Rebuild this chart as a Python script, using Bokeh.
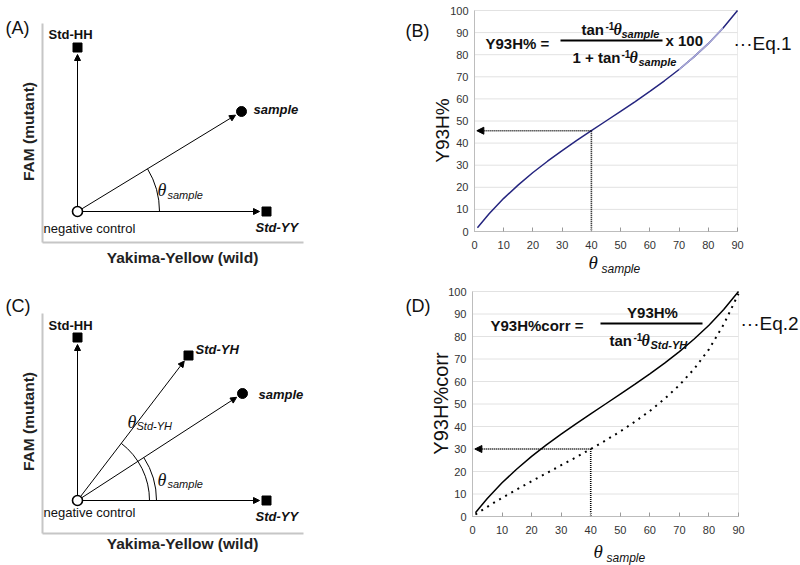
import numpy as np
from bokeh.plotting import figure
from bokeh.layouts import column, row
from bokeh.models import Label, Arrow, NormalHead, FixedTicker, Range1d, BoxAnnotation
from bokeh.embed import file_html
from bokeh.resources import INLINE

SANS = "Liberation Sans"
SERIF = "Liberation Serif"
INK = "#111111"

# ---------------- data ----------------
theta_sample = [1, 5, 10, 15, 20, 25, 30, 35, 40, 45, 50, 55, 60, 65, 70, 75, 80, 85, 90]
y93h_pct = [1.7, 8.0, 15.0, 21.1, 26.7, 31.8, 36.6, 41.2, 45.6, 50.0, 54.4, 58.8,
            63.4, 68.2, 73.3, 78.9, 85.0, 92.0, 100.0]
y93h_corr = [0.9, 4.3, 8.3, 12.0, 15.7, 19.2, 22.8, 26.3, 30.0, 33.8, 37.8, 42.2,
             46.9, 52.3, 58.4, 65.6, 74.3, 85.4, 99.0]
x_ticks = [0, 10, 20, 30, 40, 50, 60, 70, 80, 90]
y_ticks = [0, 10, 20, 30, 40, 50, 60, 70, 80, 90, 100]
read_theta = 40
read_y93h = 45.6
read_corr = 30.0

# schematic signal values (Yakima-Yellow, FAM) relative to negative control
diag_a_names = ["Std-HH", "sample", "Std-YY"]
diag_a_yy = [0, 164, 189]
diag_a_fam = [164, 100, 0]
diag_c_names = ["Std-HH", "Std-YH", "sample", "Std-YY"]
diag_c_yy = [0, 111, 165, 189]
diag_c_fam = [163, 145, 107, 0]


def linmap(p0, p1, d0, d1):
    return lambda px: d0 + (px - p0) / (p1 - p0) * (d1 - d0)


def make_fig(box, mx, my):
    x0, y0, x1, y1 = box
    p = figure(width=x1 - x0, height=y1 - y0,
               x_range=Range1d(mx(x0), mx(x1)), y_range=Range1d(my(y1), my(y0)),
               output_backend="svg", toolbar_location=None, title=None,
               min_border=0, min_border_left=0, min_border_right=0,
               min_border_top=0, min_border_bottom=0)
    p.outline_line_color = None
    p.grid.visible = False
    p.background_fill_color = "white"
    p.border_fill_color = "white"
    return p


def lab(p, m, px, py, text, size, style="normal", font=SANS, align="left",
        baseline="middle", angle=0, color=INK):
    mx, my = m
    p.add_layout(Label(x=mx(px), y=my(py), text=text, text_font=font,
                       text_font_size=f"{size}px", text_font_style=style,
                       text_align=align, text_baseline=baseline, angle=angle,
                       text_color=color))


# ---------------- schematic panels ----------------
def diagram(box, fx0, fx1, fy0, fy1, ox, oy):
    mx = linmap(ox, ox + 1, 0, 1)
    my = linmap(oy, oy - 1, 0, 1)
    p = make_fig(box, mx, my)
    for ax in (p.xaxis[0], p.yaxis[0]):
        ax.ticker = FixedTicker(ticks=[])
        ax.major_tick_out = 0
        ax.major_tick_in = 0
        ax.minor_tick_out = 0
        ax.minor_tick_in = 0
        ax.major_label_standoff = 0
        ax.axis_line_color = "#c6c6c6"
        ax.axis_line_width = 2
    p.xaxis.fixed_location = my(fy1)
    p.xaxis.bounds = (mx(fx0), mx(fx1))
    p.yaxis.fixed_location = mx(fx0)
    p.yaxis.bounds = (my(fy1), my(fy0))
    m = (mx, my)
    return p, m


def axis_titles(p, m, xpos, ypos):
    lab(p, m, xpos[0], xpos[1], "Yakima-Yellow (wild)", 15.5, "bold", align="center", color="#222222")
    lab(p, m, ypos[0], ypos[1], "FAM (mutant)", 15.5, "bold", align="center",
        angle=np.pi / 2, color="#222222")


def add_vectors(p, names, xs, ys):
    xs = np.array(xs, dtype=float)
    ys = np.array(ys, dtype=float)
    r = np.hypot(xs, ys)
    ex = xs - 7 * xs / r
    ey = ys - 7 * ys / r
    for i in range(len(names)):
        p.add_layout(Arrow(end=NormalHead(size=6, line_color="black", fill_color="black", line_width=1),
                           x_start=0, y_start=0, x_end=ex[i], y_end=ey[i],
                           line_color="black", line_width=1, level="underlay"))
    sq = [i for i, n in enumerate(names) if n != "sample"]
    sm = [i for i, n in enumerate(names) if n == "sample"]
    p.scatter(xs[sq], ys[sq], marker="square", size=9, color="black")
    p.scatter(xs[sm], ys[sm], marker="circle", size=10, color="black")
    p.scatter([0], [0], marker="circle", size=10, fill_color="white", line_color="black", line_width=1.6)


# Panel A
pA, mA = diagram((0, 0, 390, 280), 42, 303, 23, 242, 77, 211)
axis_titles(pA, mA, (182, 257), (28, 131))
add_vectors(pA, diag_a_names, diag_a_yy, diag_a_fam)
ang_a = np.arctan2(diag_a_fam[1], diag_a_yy[1])
pA.arc(x=[0], y=[0], radius=82, start_angle=0, end_angle=ang_a, line_color="black", line_width=1)
lab(pA, mA, 5, 27, "(A)", 18)
lab(pA, mA, 70, 34, "Std-HH", 13, "bold", align="center")
lab(pA, mA, 253, 109, "sample", 13, "bold italic")
lab(pA, mA, 255, 227, "Std-YY", 13, "bold italic")
lab(pA, mA, 43, 228, "negative control", 13)
lab(pA, mA, 157, 189, "θ", 18, "italic", SERIF)
lab(pA, mA, 167, 194, "sample", 11, "italic")

# Panel C
pC, mC = diagram((0, 280, 390, 565), 42, 303, 313, 533, 77, 500)
axis_titles(pC, mC, (182, 543), (28, 421))
add_vectors(pC, diag_c_names, diag_c_yy, diag_c_fam)
ang_yh = np.arctan2(diag_c_fam[1], diag_c_yy[1])
ang_s = np.arctan2(diag_c_fam[2], diag_c_yy[2])
pC.arc(x=[0], y=[0], radius=72, start_angle=0, end_angle=ang_yh, line_color="black", line_width=1)
pC.arc(x=[0], y=[0], radius=79, start_angle=0, end_angle=ang_s, line_color="black", line_width=1)
lab(pC, mC, 5, 305, "(C)", 18)
lab(pC, mC, 70, 325, "Std-HH", 13, "bold", align="center")
lab(pC, mC, 195, 349, "Std-YH", 13, "bold italic")
lab(pC, mC, 258, 394, "sample", 13, "bold italic")
lab(pC, mC, 255, 516, "Std-YY", 13, "bold italic")
lab(pC, mC, 43, 512, "negative control", 13)
lab(pC, mC, 127, 421, "θ", 18, "italic", SERIF)
lab(pC, mC, 136, 425, "Std-YH", 11, "italic")
lab(pC, mC, 157, 479, "θ", 18, "italic", SERIF)
lab(pC, mC, 167, 483, "sample", 11, "italic")


# ---------------- chart panels ----------------
def chart(box, fx0, fx1, fy0, fy1):
    mx = linmap(fx0, fx1, 0, 90)
    my = linmap(fy1, fy0, 0, 100)
    p = make_fig(box, mx, my)
    p.add_layout(BoxAnnotation(left=0, right=90, bottom=0, top=100, fill_color=None,
                               fill_alpha=0, line_color="#bdbdbd", line_width=1, level="underlay"))
    n = len(y_ticks) - 1
    p.segment(x0=[x_ticks[0]] * n, y0=y_ticks[1:], x1=[x_ticks[-1]] * n, y1=y_ticks[1:],
              line_color="#e2e2e2", line_width=1)
    p.xaxis.ticker = FixedTicker(ticks=x_ticks)
    p.yaxis.ticker = FixedTicker(ticks=y_ticks)
    p.xaxis.fixed_location = 0
    p.yaxis.fixed_location = 0
    p.xaxis.bounds = (x_ticks[0], x_ticks[-1])
    p.yaxis.bounds = (y_ticks[0], y_ticks[-1])
    for ax in (p.xaxis[0], p.yaxis[0]):
        ax.axis_line_color = "#bdbdbd"
        ax.major_tick_line_color = "#9a9a9a"
        ax.minor_tick_line_color = None
        ax.major_label_text_font = SANS
        ax.major_label_text_font_size = "11px"
        ax.major_label_text_color = "#333333"
    p.xaxis.major_tick_in = 4
    p.xaxis.major_tick_out = 0
    p.xaxis.major_label_standoff = 9
    p.yaxis.major_tick_in = 0
    p.yaxis.major_tick_out = 0
    p.yaxis.major_label_standoff = 6
    return p, (mx, my)


def guide(p, xv, yv):
    p.segment(x0=[xv], y0=[yv], x1=[xv], y1=[0], line_color="black", line_width=1.6, line_dash="1 1")
    p.add_layout(Arrow(end=NormalHead(size=7, line_color="black", fill_color="black", line_width=1),
                       x_start=xv, y_start=yv, x_end=0.8, y_end=yv,
                       line_color="black", line_width=1.6, line_dash="1 1"))


# Panel B
pB, mB = chart((390, 0, 800, 280), 474, 737, 10, 231)
guide(pB, read_theta, read_y93h)
pB.line(theta_sample, y93h_pct, line_color="#25257f", line_width=1.5)
lt = slice(theta_sample.index(70), theta_sample.index(85) + 1)
pB.line(theta_sample[lt], y93h_pct[lt], line_color="#a9a9d8", line_width=1.5)
lab(pB, mB, 405, 30, "(B)", 18)
lab(pB, mB, 442, 130, "Y93H%", 19, align="center", angle=np.pi / 2)
lab(pB, mB, 588, 262, "θ", 19, "italic", SERIF)
lab(pB, mB, 601, 268, "sample", 12, "italic")
lab(pB, mB, 485, 43, "Y93H% =", 15, "bold")
lab(pB, mB, 581, 29, "tan", 15, "bold")
lab(pB, mB, 605, 25, "-1", 10, "bold")
lab(pB, mB, 613, 29, "θ", 16, "bold italic", SERIF)
lab(pB, mB, 621, 33, "sample", 11, "bold italic")
lab(pB, mB, 572, 57, "1 + tan", 15, "bold")
lab(pB, mB, 621, 53, "-1", 10, "bold")
lab(pB, mB, 629, 57, "θ", 16, "bold italic", SERIF)
lab(pB, mB, 638, 61, "sample", 11, "bold italic")
pB.segment(x0=[mB[0](560)], y0=[mB[1](40)], x1=[mB[0](662)], y1=[mB[1](40)],
           line_color="black", line_width=2)
lab(pB, mB, 665, 40, "x 100", 15, "bold")
lab(pB, mB, 733, 43, "···Eq.1", 19)

# Panel D
pD, mD = chart((390, 280, 800, 565), 472, 738, 291, 516)
guide(pD, read_theta, read_corr)
pD.line(theta_sample, y93h_pct, line_color="black", line_width=1.5)
pD.line(theta_sample, y93h_corr, line_color="black", line_width=2, line_dash="2 5")
lab(pD, mD, 405, 305, "(D)", 18)
lab(pD, mD, 440, 403, "Y93H%corr", 20, align="center", angle=np.pi / 2)
lab(pD, mD, 593, 551, "θ", 19, "italic", SERIF)
lab(pD, mD, 606, 557, "sample", 12, "italic")
lab(pD, mD, 490, 325, "Y93H%corr =", 15, "bold")
pD.segment(x0=[mD[0](600)], y0=[mD[1](323)], x1=[mD[0](702)], y1=[mD[1](323)],
           line_color="black", line_width=2)
lab(pD, mD, 652, 312, "Y93H%", 15, "bold", align="center")
lab(pD, mD, 609, 340, "tan", 15, "bold")
lab(pD, mD, 633, 336, "-1", 10, "bold")
lab(pD, mD, 641, 340, "θ", 16, "bold italic", SERIF)
lab(pD, mD, 650, 344, "Std-YH", 11, "bold italic")
lab(pD, mD, 740, 323, "···Eq.2", 19)

layout = column(row(pA, pB), row(pC, pD))
open("out.html", "w").write(file_html(layout, INLINE))
